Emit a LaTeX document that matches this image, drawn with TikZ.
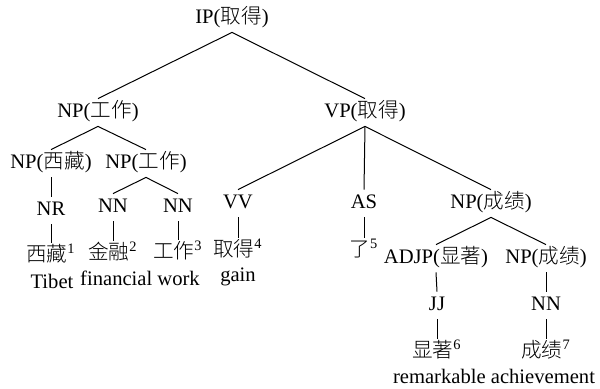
\documentclass[tikz,border=0pt]{standalone}
\usepackage{fontspec}
\setmainfont{Liberation Serif}
\newfontfamily\cjkfont{Noto Sans CJK SC Light}
\newcommand\zh[1]{{\cjkfont #1}}
\begin{document}
\begin{tikzpicture}[x=0.5pt,y=-0.5pt,
  lab/.style={anchor=base, inner xsep=1pt, inner ysep=1.5pt, text height=7.5pt, text depth=3pt, font=\fontsize{10.3}{12}\selectfont},
  gloss/.style={anchor=base, inner sep=0pt, font=\fontsize{10.3}{12}\selectfont},
  edge/.style={draw=black, line width=0.5pt}]
\useasboundingbox (0,0) rectangle (600,388);
% phrase nodes
\node[lab] (ip)   at (232,23)  {IP(\zh{取得})};
\node[lab] (np1)  at (98,117)  {NP(\zh{工作})};
\node[lab] (vp)   at (365,117) {VP(\zh{取得})};
\node[lab] (npx)  at (51,168)  {NP(\zh{西藏})};
\node[lab] (npg)  at (146,168) {NP(\zh{工作})};
\node[lab] (nr)   at (51,215)  {NR};
\node[lab] (nn1)  at (113,212) {NN};
\node[lab] (nn2)  at (178,212) {NN};
\node[lab] (vv)   at (238,208) {VV};
\node[lab] (as)   at (364,208) {AS};
\node[lab] (npc)  at (491,208) {NP(\zh{成绩})};
\node[lab] (adjp) at (436,263) {ADJP(\zh{显著})};
\node[lab] (npc2) at (546,263) {NP(\zh{成绩})};
\node[lab] (jj)   at (437,310) {JJ};
\node[lab] (nn3)  at (546,310) {NN};
% words
\node[lab] (w1) at (51,261)  {\zh{西藏}\textsuperscript{1}};
\node[lab] (w2) at (113,259) {\zh{金融}\textsuperscript{2}};
\node[lab] (w3) at (178,258) {\zh{工作}\textsuperscript{3}};
\node[lab] (w4) at (238,256) {\zh{取得}\textsuperscript{4}};
\node[lab] (w5) at (364,256) {\zh{了}\textsuperscript{5}};
\node[lab] (w6) at (437,357) {\zh{显著}\textsuperscript{6}};
\node[lab] (w7) at (546,357) {\zh{成绩}\textsuperscript{7}};
% glosses
\node[gloss] (g1) at (52,288)  {Tibet};
\node[gloss] (g2) at (140,285) {financial work};
\node[gloss] (g3) at (238,281) {gain};
\node[gloss] (g4) at (494,383) {remarkable achievement};
% edges
\draw[edge] (ip.south) -- (np1.north);
\draw[edge] (ip.south) -- (vp.north);
\draw[edge] (np1.south) -- (npx.north);
\draw[edge] (np1.south) -- (npg.north);
\draw[edge] (vp.south) -- (vv.north);
\draw[edge] (vp.south) -- (as.north);
\draw[edge] (vp.south) -- (npc.north);
\draw[edge] (npx.south) -- (nr.north);
\draw[edge] (npg.south) -- (nn1.north);
\draw[edge] (npg.south) -- (nn2.north);
\draw[edge] (nr.south) -- (w1.north);
\draw[edge] (nn1.south) -- (w2.north);
\draw[edge] (nn2.south) -- (w3.north);
\draw[edge] (vv.south) -- (w4.north);
\draw[edge] (as.south) -- (w5.north);
\draw[edge] (npc.south) -- (adjp.north);
\draw[edge] (npc.south) -- (npc2.north);
\draw[edge] (adjp.south) -- (jj.north);
\draw[edge] (npc2.south) -- (nn3.north);
\draw[edge] (jj.south) -- (w6.north);
\draw[edge] (nn3.south) -- (w7.north);
\end{tikzpicture}
\end{document}
